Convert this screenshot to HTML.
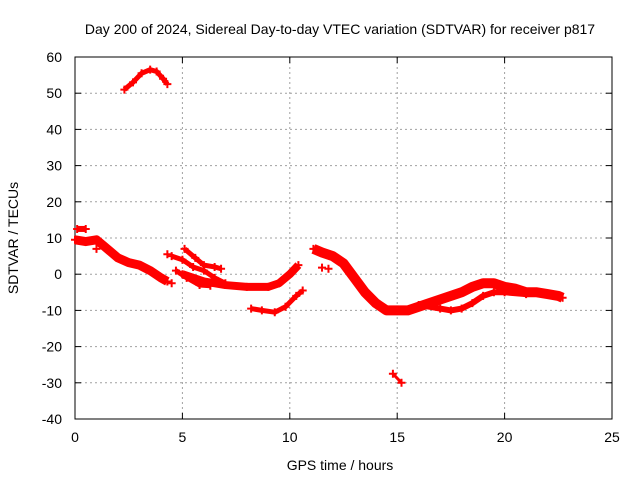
<!DOCTYPE html>
<html><head><meta charset="utf-8"><style>
body{margin:0;background:#fff}
svg{font-family:"Liberation Sans",sans-serif;font-size:14px}
</style></head><body>
<svg id="c" width="640" height="480">
<rect width="640" height="480" fill="#fff"/>
<text x="340" y="34" text-anchor="middle">Day 200 of 2024, Sidereal Day-to-day VTEC variation (SDTVAR) for receiver p817</text>
<g id="grid"></g><g id="axes"></g><g id="series"></g>
<text x="340" y="470" text-anchor="middle">GPS time / hours</text>
<text transform="translate(18,238) rotate(-90)" text-anchor="middle">SDTVAR / TECUs</text>
</svg>
<script>
const xTicks=[0,5,10,15,20,25];
const yTicks=[-40,-30,-20,-10,0,10,20,30,40,50,60];
const trackTopArc=[[2.3,51],[2.7,53],[3.1,55.5],[3.5,56.5],[3.8,56],[4.1,54],[4.3,52.5]];
const trackEarlyTop=[[0.1,12.5],[0.5,12.5]];
const trackEarly=[[0,9.5],[0.5,9],[1,9.5],[1.3,8],[1.7,6],[2,4.5],[2.5,3.2],[3,2.5],[3.5,1],[4,-1],[4.3,-2]];
const trackMidLow=[[5,0],[5.5,-1],[6,-2],[7,-3],[8,-3.5],[9,-3.5],[9.5,-2.5],[10,0],[10.4,2.5]];
const trackMidUp1=[[4.5,5],[5,4],[5.5,2],[6,1],[6.5,-1],[7,-2.5]];
const trackMidUp2=[[5.1,7],[5.6,4.5],[6,2.5],[6.5,2],[6.8,1.5]];
const trackMidUp3=[[4.7,1],[5.2,-1],[5.8,-3],[6.3,-3.2]];
const trackLowArc=[[8.2,-9.5],[8.7,-10],[9.3,-10.5],[9.8,-9],[10.3,-6],[10.6,-4.5]];
const trackLate=[[11.1,7],[11.5,6],[12,5],[12.5,3],[13,-1],[13.5,-5],[14,-8],[14.5,-10],[15,-10],[15.5,-10],[16,-9],[16.5,-8],[17,-7],[17.5,-6],[18,-5],[18.5,-3.5],[19,-2.5],[19.5,-2.5],[20,-3.5],[20.5,-4],[21,-5],[21.5,-5],[22,-5.5],[22.5,-6],[22.7,-6.5]];
const trackLateLow=[[16,-8.5],[17,-9.5],[17.5,-10],[18,-9.5],[18.5,-8],[19,-6],[19.5,-5],[20,-5],[21,-5.5]];
const trackOutlier=[[14.8,-27.5],[15.2,-30]];
const isolated=[[11.5,1.8],[11.8,1.5],[4.5,-2.5],[1,7],[4.3,5.5]];
const tracks=[[trackTopArc,5],[trackEarlyTop,6],[trackEarly,9],[trackMidLow,8],[trackMidUp1,5],[trackMidUp2,5],[trackMidUp3,5],[trackLowArc,5],[trackLate,10],[trackLateLow,6],[trackOutlier,3]];
const X0=75,X1=612,Y0=419,Y1=57;
const sx=t=>X0+(t-0)/(25-0)*(X1-X0);
const sy=v=>Y0-(v+40)/(100)*(Y0-Y1);
const NS='http://www.w3.org/2000/svg';
function mk(tag,attrs,parent){const e=document.createElementNS(NS,tag);for(const k in attrs)e.setAttribute(k,attrs[k]);parent.appendChild(e);return e;}
const grid=document.getElementById('grid'),axes=document.getElementById('axes'),series=document.getElementById('series');
xTicks.forEach(t=>{const x=sx(t);
 if(t>0&&t<25){const g=mk('line',{x1:x,x2:x,y1:Y1,y2:Y0,stroke:'#a0a0a0','stroke-dasharray':'2,3'},grid);}
 mk('line',{x1:x,x2:x,y1:Y0,y2:Y0-6,stroke:'#000'},axes);mk('line',{x1:x,x2:x,y1:Y1,y2:Y1+6,stroke:'#000'},axes);
 const l=mk('text',{x:x,y:Y0+23,'text-anchor':'middle'},axes);l.textContent=t;
 
 });
yTicks.forEach(v=>{const y=sy(v);
 if(v>-40&&v<60){const g=mk('line',{x1:X0,x2:X1,y1:y,y2:y,stroke:'#a0a0a0','stroke-dasharray':'2,3'},grid);}
 mk('line',{x1:X0,x2:X0+6,y1:y,y2:y,stroke:'#000'},axes);mk('line',{x1:X1,x2:X1-6,y1:y,y2:y,stroke:'#000'},axes);
 const l=mk('text',{x:X0-13,y:y+5,'text-anchor':'end'},axes);l.textContent=v;
 
 });
const fr=mk('rect',{x:X0,y:Y1,width:X1-X0,height:Y0-Y1,fill:'none',stroke:'#000'},axes);


function plus(t,v){const x=sx(t),y=sy(v);
 const p=mk('path',{d:`M${x-4},${y}H${x+4}M${x},${y-4}V${y+4}`,stroke:'#f00','stroke-width':2},series);
 
 }
tracks.forEach(([pts,w])=>{
 const pl=mk('polyline',{points:pts.map(p=>sx(p[0])+','+sy(p[1])).join(' '),fill:'none',stroke:'#f00','stroke-width':w,'stroke-linejoin':'round'},series);
 
 
 pts.forEach(p=>plus(p[0],p[1]));});
isolated.forEach(p=>plus(p[0],p[1]));
</script>
</body></html>
